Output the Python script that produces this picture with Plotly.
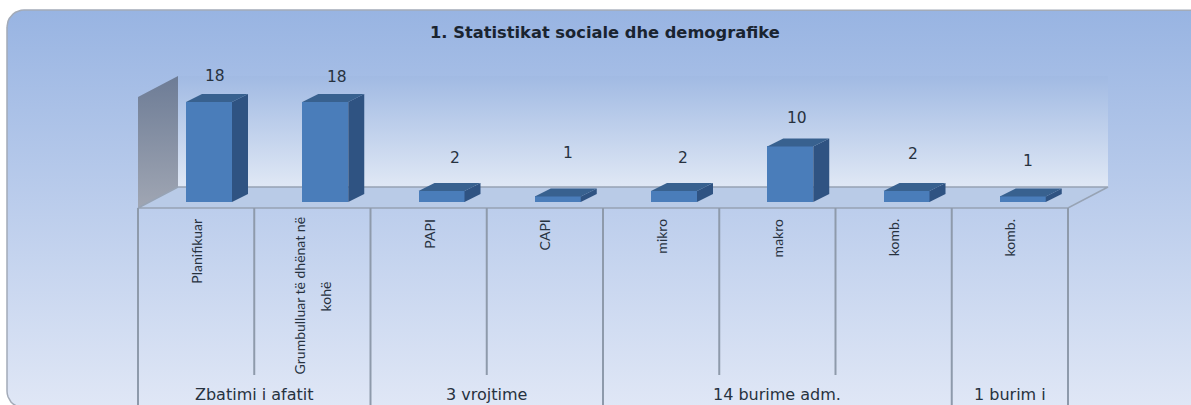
import numpy as np
import plotly.graph_objects as go

# ---------- data ----------
categories = ["Planifikuar", "Grumbulluar të dhënat në<br>kohë", "PAPI", "CAPI",
              "mikro", "makro", "komb.", "komb."]
values = [18, 18, 2, 1, 2, 10, 2, 1]
groups = ["Zbatimi i afatit", "3 vrojtime", "14 burime adm.", "1 burim i"]
group_sizes = [2, 2, 3, 1]
title_text = "1. Statistikat sociale dhe demografike"

# ---------- layout geometry (page pixels) ----------
W, H = 1191, 405
BAR0_PX, STEP_PX = 209.0, 116.25      # centre of the first bar front, category step
BASE_PX, UNIT_PX = 202.0, 5.556       # baseline, pixels per value unit
BAR_W_PX, DEPTH_X_PX, DEPTH_Y_PX = 46.0, 16.0, 8.0
FLOOR_L, FLOOR_R, FLOOR_Y = 138.0, 1068.0, 208.0
BACK_DX, BACK_Y, TOP_Y = 40.0, 187.0, 76.0
label_shift_x = [6, 12, 13, 10, 9, 7, 6, 5]
label_gap = [18, 17, 25, 35, 25, 20, 29, 27]


def px(x):
    return (np.asarray(x, float) - BAR0_PX) / STEP_PX


def py(y):
    return (BASE_PX - np.asarray(y, float)) / UNIT_PX


X_RANGE = [float(px(0)), float(px(W))]
Y_RANGE = [float(py(H)), float(py(0))]

fig = go.Figure()


def deco(xs, ys, fill=None, grad=None, line=None, lw=0, mode="lines"):
    kw = dict(x=px(xs).tolist(), y=py(ys).tolist(), mode=mode, hoverinfo="skip", showlegend=False,
              line=dict(color=line or "rgba(0,0,0,0)", width=lw))
    if fill or grad:
        kw["fill"] = "toself"
    if fill:
        kw["fillcolor"] = fill
    if grad:
        kw["fillgradient"] = dict(type="vertical", colorscale=[[0, grad[0]], [1, grad[1]]])
    fig.add_trace(go.Scatter(**kw))


# rounded card (runs off the right and bottom of the picture)
CARD_L, CARD_R, CARD_T, CARD_B, RAD = 7.0, 1215.0, 10.0, 408.0, 17.0
cx, cy = [], []
for (ox, oy, a0) in [(CARD_L + RAD, CARD_T + RAD, 180), (CARD_R - RAD, CARD_T + RAD, 270),
                     (CARD_R - RAD, CARD_B - RAD, 0), (CARD_L + RAD, CARD_B - RAD, 90)]:
    t = np.radians(np.linspace(a0, a0 + 90, 10))
    cx += (ox + RAD * np.cos(t)).tolist()
    cy += (oy + RAD * np.sin(t)).tolist()
cx.append(cx[0])
cy.append(cy[0])
deco(cx, cy, grad=("#e0e7f6", "#98b4e2"), line="#a3abb8", lw=1.5)

# back wall, left wall, floor
L, R = FLOOR_L, FLOOR_R
deco([L + BACK_DX, R + BACK_DX, R + BACK_DX, L + BACK_DX, L + BACK_DX],
     [TOP_Y, TOP_Y, BACK_Y, BACK_Y, TOP_Y], grad=("#e0e8f5", "#a1bae3"))
deco([L, L + BACK_DX, L + BACK_DX, L, L], [97, TOP_Y, BACK_Y, FLOOR_Y, 97],
     grad=("#a0a6b3", "#6d7c96"))
deco([L, L + BACK_DX, R + BACK_DX, R, L], [FLOOR_Y, BACK_Y, BACK_Y, FLOOR_Y, FLOOR_Y],
     fill="#b9cbe7", line="#97a3b4", lw=1.5)

# category table lines
edges = [L + STEP_PX * k for k in range(len(categories) + 1)]
group_edges = set(np.cumsum([0] + group_sizes).tolist())
for k, ex in enumerate(edges):
    deco([ex, ex], [FLOOR_Y, H if k in group_edges else 375], line="#8e9aab", lw=2)

# ---------- bars (on the overlay axes so that they sit above the backdrop) ----------
idx = list(range(len(values)))
bar_w = BAR_W_PX / STEP_PX
dx = DEPTH_X_PX / STEP_PX
dy = DEPTH_Y_PX / UNIT_PX
fig.add_trace(go.Bar(x=idx, y=values, width=bar_w, xaxis="x2", yaxis="y2",
                     marker=dict(color="#4a7dba", line=dict(width=0)),
                     hovertemplate="%{y}<extra></extra>", showlegend=False))
for i, v in zip(idx, values):
    r = i + bar_w / 2
    le = i - bar_w / 2
    fig.add_trace(go.Scatter(x=[r, r + dx, r + dx, r, r], y=[0, dy, v + dy, v, 0], mode="lines",
                             fill="toself", fillcolor="#2f5382", line=dict(width=0), xaxis="x2",
                             yaxis="y2", hoverinfo="skip", showlegend=False))
    fig.add_trace(go.Scatter(x=[le, le + dx, r + dx, r, le], y=[v, v + dy, v + dy, v, v], mode="lines",
                             fill="toself", fillcolor="#38618f", line=dict(width=0), xaxis="x2",
                             yaxis="y2", hoverinfo="skip", showlegend=False))

# ---------- text ----------
TXT = "#27323f"
ann = [dict(text=title_text, x=605 / W, y=1 - 32 / H, xref="paper", yref="paper", showarrow=False,
            xanchor="center", yanchor="middle",
            font=dict(family="DejaVu Sans", size=16.3, color="#1a2430", weight="bold"))]
for i, v in enumerate(values):
    ann.append(dict(text=str(v), x=i, y=v + dy, xref="x2", yref="y2", showarrow=False,
                    xshift=label_shift_x[i], yshift=label_gap[i],
                    font=dict(family="DejaVu Sans", size=15.5, color=TXT)))
cat_center_shift = (L + STEP_PX / 2) - BAR0_PX
LINE_GAP = 26
CAT_FONT = dict(family="Lato", size=14, color=TXT)
for i, c in enumerate(categories):
    lines = c.split("<br>")
    for j, part in enumerate(lines):
        offset = (j - (len(lines) - 1) / 2) * LINE_GAP
        multi = len(lines) > 1
        ann.append(dict(text=part, x=i, y=float(py(296 if multi else 217)), xref="x2", yref="y2",
                        showarrow=False, xshift=cat_center_shift + offset,
                        yanchor="middle" if multi else "top", textangle=-90, font=CAT_FONT))
start = 0
for g, n in zip(groups, group_sizes):
    ann.append(dict(text=g, x=start + (n - 1) / 2, y=float(py(394)), xref="x2", yref="y2", showarrow=False,
                    xshift=cat_center_shift, font=dict(family="DejaVu Sans", size=16, color=TXT)))
    start += n

ax = dict(visible=False, fixedrange=True)
fig.update_layout(
    width=W, height=H, margin=dict(l=0, r=0, t=0, b=0, pad=0), autosize=False,
    paper_bgcolor="#ffffff", plot_bgcolor="rgba(0,0,0,0)", showlegend=False,
    bargap=0, annotations=ann,
    xaxis=dict(range=X_RANGE, domain=[0, 1], **ax),
    yaxis=dict(range=Y_RANGE, domain=[0, 1], **ax),
    xaxis2=dict(range=X_RANGE, overlaying="x", **ax),
    yaxis2=dict(range=Y_RANGE, overlaying="y", **ax),
)
fig.write_html("out.html", post_script="document.body.style.margin='0';",
               config={"displayModeBar": False})
